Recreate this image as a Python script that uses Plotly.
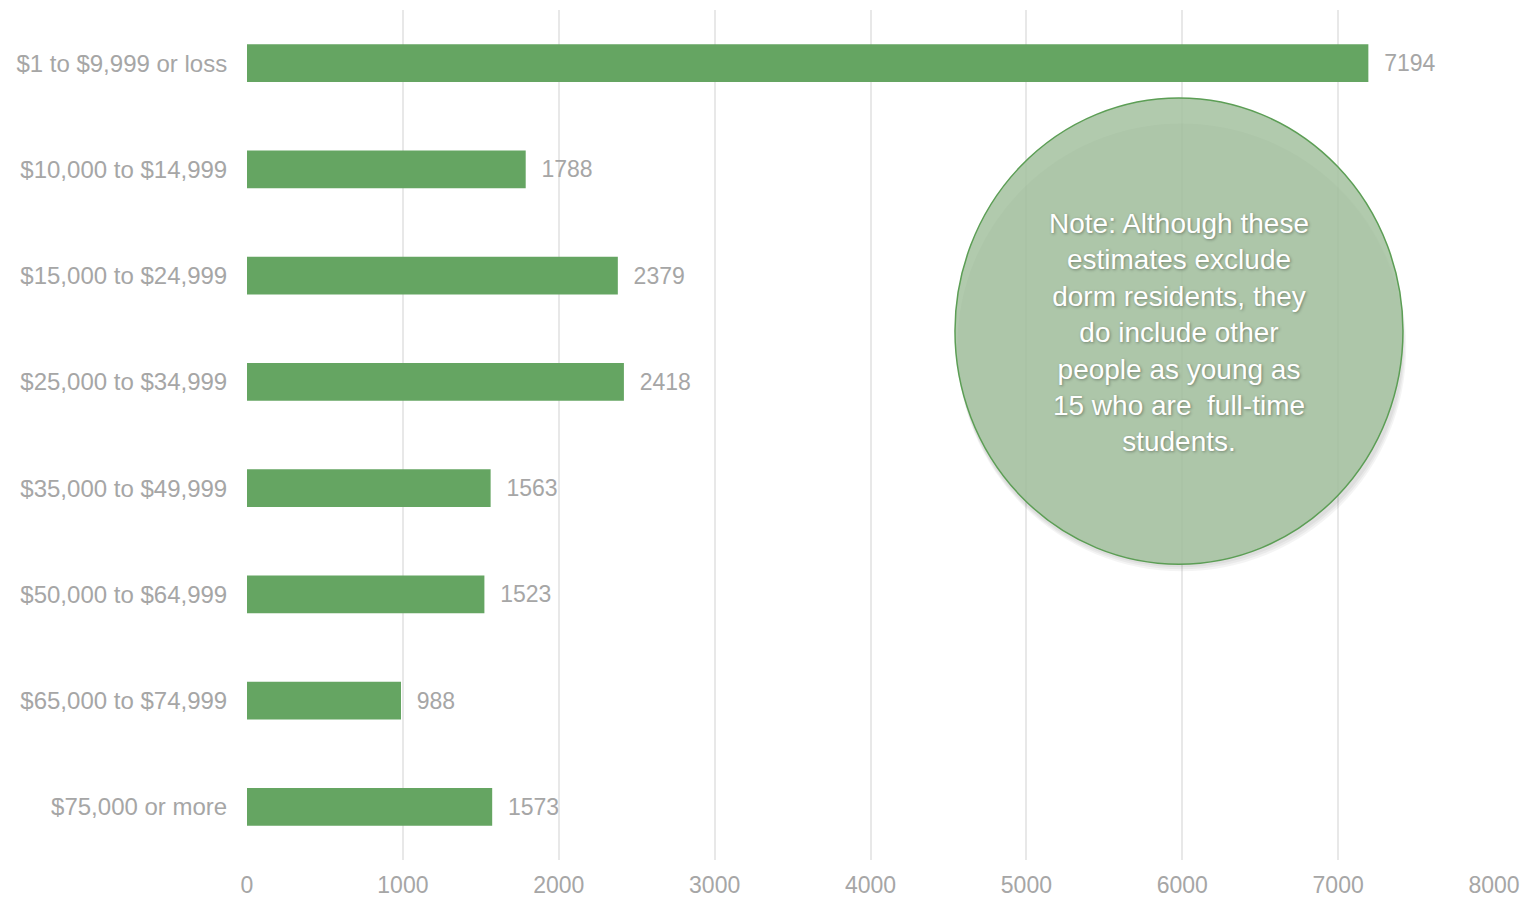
import plotly.graph_objects as go

categories = ["$1 to $9,999 or loss", "$10,000 to $14,999", "$15,000 to $24,999",
              "$25,000 to $34,999", "$35,000 to $49,999", "$50,000 to $64,999",
              "$65,000 to $74,999", "$75,000 or more"]
values = [7194, 1788, 2379, 2418, 1563, 1523, 988, 1573]
x_ticks = [0, 1000, 2000, 3000, 4000, 5000, 6000, 7000, 8000]
note = ("Note: Although these<br>estimates exclude<br>dorm residents, they<br>do include other<br>"
        "people as young as<br>15 who are  full-time<br>students.")

GRAY = "#a6a6a6"
GREEN = "#65a562"

fig = go.Figure()
fig.add_trace(go.Bar(
    y=categories, x=values, orientation="h",
    marker=dict(color=GREEN, line=dict(width=0)),
    width=0.357,
    text=["  " + str(v) for v in values],
    textposition="outside",
    textfont=dict(color=GRAY, size=23, family="Liberation Sans, Arial"),
    cliponaxis=False,
    hoverinfo="skip",
))

# Note bubble: soft shadow + circle
for k in range(3):
    d = 3 + 2 * k
    fig.add_shape(type="circle", xref="x", yref="paper",
                  x0=4542 + 15, x1=7416 + 5 + k * 8,
                  y0=0.348 - d / 850, y1=0.8965 - 0.03,
                  fillcolor="rgba(0,0,0,0.045)", line=dict(width=0), layer="above")
fig.add_shape(type="circle", xref="x", yref="paper",
              x0=4542, x1=7416, y0=0.348, y1=0.8965,
              fillcolor="rgba(164,193,160,0.86)", line=dict(color="#5c9e55", width=1.5),
              layer="above")
fig.add_annotation(x=5979, y=0.6205, xref="x", yref="paper", text=note,
                   showarrow=False, align="center",
                   font=dict(color="white", size=28, family="Liberation Sans, Arial",
                             shadow="1px 1px 3px rgba(0,0,0,0.35)"))

fig.update_layout(
    width=1531, height=899,
    margin=dict(l=247, r=37, t=10, b=39),
    paper_bgcolor="white", plot_bgcolor="white",
    showlegend=False,
    font=dict(family="Liberation Sans, Arial", color=GRAY),
    xaxis=dict(range=[0, 8000], tickvals=x_ticks, showgrid=True,
               gridcolor="#e8e8e8", gridwidth=2, zeroline=False, automargin=False,
               showline=False, ticks="outside", ticklen=4, tickcolor="rgba(0,0,0,0)",
               tickfont=dict(size=23, color=GRAY)),
    yaxis=dict(categoryorder="array", categoryarray=categories[::-1],
               showgrid=False, zeroline=False, showline=False, automargin=False,
               ticks="outside", ticklen=14, tickcolor="rgba(0,0,0,0)",
               tickfont=dict(size=24, color=GRAY)),
)
fig.update_yaxes(range=[-0.5, 7.5])
fig.write_html("out.html", config={"displayModeBar": False})

with open("out.html", "r", encoding="utf-8") as f:
    html = f.read()
html = html.replace("<head>", "<head><style>html,body{margin:0;padding:0;overflow:hidden;}</style>", 1)
with open("out.html", "w", encoding="utf-8") as f:
    f.write(html)
